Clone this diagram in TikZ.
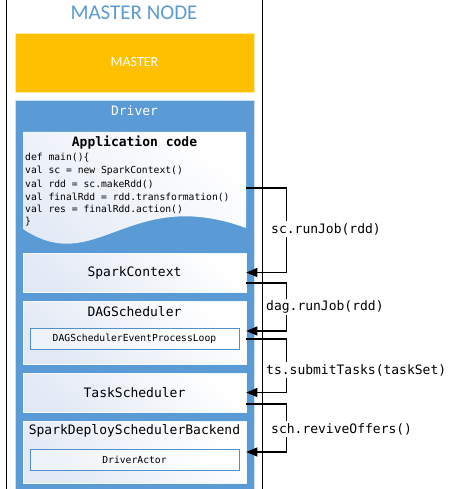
\documentclass[tikz,border=0pt]{standalone}
\usepackage{fontspec}
\setmonofont{DejaVu Sans Mono}
\newfontfamily\calfont{Carlito}
\usetikzlibrary{arrows.meta}
\definecolor{orng}{HTML}{FFC000}
\definecolor{sblue}{HTML}{5B9BD5}
\definecolor{tblue}{HTML}{5B9BD5}
\definecolor{boxbot}{HTML}{E2E9F5}
\definecolor{inbord}{HTML}{5090CC}
\tikzset{
  wbox/.style={inner sep=0pt, minimum width=223pt, top color=white, bottom color=boxbot, shading angle=-40, draw=white!92!sblue, line width=0.6pt},
  ibox/.style={inner sep=0pt, minimum width=209pt, minimum height=21pt, top color=white, bottom color=boxbot!60!white, shading angle=-40, draw=inbord, line width=1pt, font=\fontsize{9.7}{11}\selectfont\ttfamily},
  bigtt/.style={font=\fontsize{13}{15}\selectfont\ttfamily},
  codett/.style={anchor=west, inner sep=0pt, font=\fontsize{9.7}{11}\selectfont\ttfamily},
  conn/.style={line width=1.3pt, -{Triangle[length=11pt,width=9pt]}},
  lbl/.style={anchor=west, fill=white, inner sep=2pt, font=\fontsize{13}{15}\selectfont\ttfamily}
}
\begin{document}
\begin{tikzpicture}[x=1pt,y=-1pt]
\useasboundingbox (0,0) rectangle (452,489);
% outer master node frame
\draw[line width=1pt] (6,-5) rectangle (262,495);
\node[text=tblue, font=\fontsize{21}{24}\selectfont\calfont] (title) at (134,13) {MASTER NODE};
% master box
\node[fill=orng, draw=orng!35!white, line width=0.8pt, minimum width=239pt, minimum height=59pt, inner sep=0pt,
      text=white, font=\fontsize{14}{16}\selectfont\calfont] (master) at (134.5,62.5) {MASTER};
% driver box
\node[fill=sblue, draw=sblue!30!white, line width=0.8pt, minimum width=239pt, minimum height=392pt, inner sep=0pt] (driver) at (134.5,296) {};
\node[bigtt, text=white] (drivertitle) at (134.5,111) {Driver};
% application code document shape
\node[inner sep=0pt, minimum width=223pt, minimum height=96pt] (app) at (134.5,180) {};
\shade[top color=white, bottom color=boxbot, shading angle=-40] (23,132) -- (246,132) -- (246,228) .. controls (129,185) and (96,278) .. (23,229) -- cycle;
\node[bigtt, font=\fontsize{13}{15}\selectfont\ttfamily\bfseries] (apptitle) at (134.5,143) {Application code};
\node[codett] (c1) at (25,158) {def main()\{};
\node[codett] (c2) at (25,171) {val sc = new SparkContext()};
\node[codett] (c3) at (25,184) {val rdd = sc.makeRdd()};
\node[codett] (c4) at (25,197) {val finalRdd = rdd.transformation()};
\node[codett] (c5) at (25,209.5) {val res = finalRdd.action()};
\node[codett] (c6) at (25,222) {\}};
% boxes
\node[wbox, minimum height=39pt, bigtt] (sc) at (134.5,272.5) {SparkContext};
\node[wbox, minimum height=63pt] (dag) at (134.5,332.5) {};
\node[bigtt] (dagtitle) at (134.5,312) {DAGScheduler};
\node[ibox] (loop) at (134.5,338.5) {DAGSchedulerEventProcessLoop};
\node[wbox, minimum height=39pt, bigtt] (ts) at (134.5,392.5) {TaskScheduler};
\node[wbox, minimum height=62pt] (sdsb) at (134.5,452) {};
\node[bigtt] (sdsbtitle) at (134.5,431) {SparkDeploySchedulerBackend};
\node[ibox] (actor) at (134.5,460) {DriverActor};
% connectors
\draw[conn] ([yshift=-8pt]app.east) -- ++(40,0) |- (sc.east);
\draw[conn] ([yshift=-10.5pt]sc.east) -- ++(40,0) |- ([yshift=1.5pt]dag.east);
\draw[conn] ([yshift=-6.5pt]dag.east) -- ++(40,0) |- (ts.east);
\draw[conn] ([yshift=-11.5pt]ts.east) -- ++(40,0) |- (sdsb.east);
% labels
\node[lbl] (l1) at (269,229) {sc.runJob(rdd)};
\node[lbl] (l2) at (264,307) {dag.runJob(rdd)};
\node[lbl] (l3) at (264,370) {ts.submitTasks(taskSet)};
\node[lbl] (l4) at (269,429) {sch.reviveOffers()};
\end{tikzpicture}
\end{document}
